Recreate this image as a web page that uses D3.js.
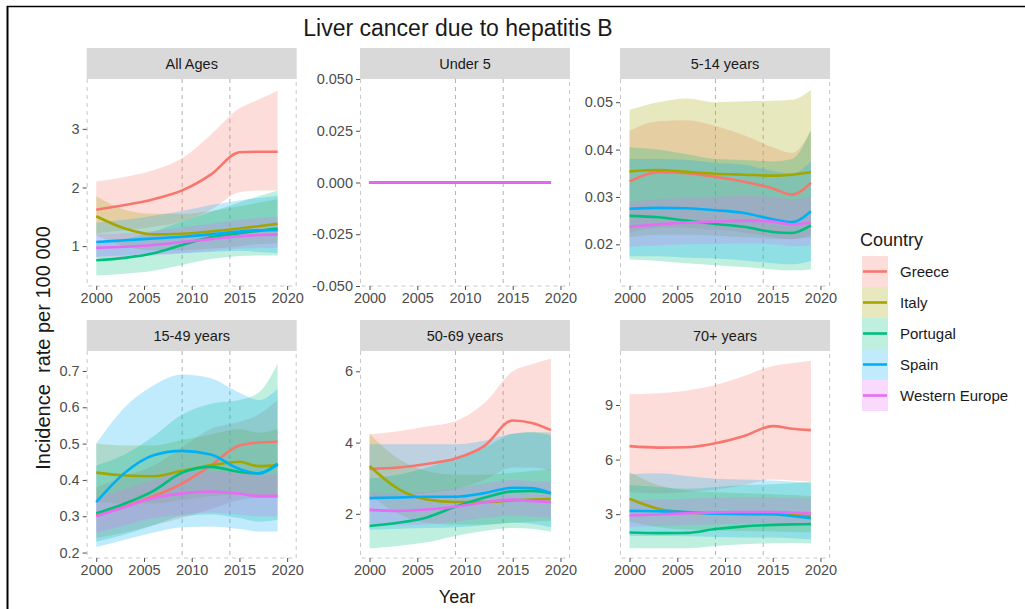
<!DOCTYPE html>
<html>
<head>
<meta charset="utf-8">
<script src="https://cdn.jsdelivr.net/npm/d3@7"></script>
<style>
  html, body { margin: 0; padding: 0; background: #fff; }
  svg { display: block; font-family: "Liberation Sans", Arial, Helvetica, sans-serif; }
</style>
</head>
<body>
<svg id="chart" width="1025" height="609"></svg>
<script>
// ---- data -------------------------------------------------------------
const years = [2000, 2003, 2006, 2009, 2012, 2015, 2017, 2019];
const countries = ["Greece", "Italy", "Portugal", "Spain", "Western Europe"];
const countryColors = ["#F8766D", "#A3A500", "#00BF7D", "#00B0F6", "#E76BF3"];
const panelTitles = ["All Ages", "Under 5", "5-14 years", "15-49 years", "50-69 years", "70+ years"];
const xTicks = [2000, 2005, 2010, 2015, 2020];
const markerYears = [2009, 2014];

// rate per 100 000, one row per country (Greece, Italy, Portugal, Spain, Western Europe)
const allAgesRate = [
  [1.62, 1.70, 1.80, 1.95, 2.22, 2.60, 2.61, 2.61],
  [1.51, 1.30, 1.20, 1.21, 1.25, 1.30, 1.34, 1.38],
  [0.76, 0.80, 0.88, 1.02, 1.15, 1.22, 1.26, 1.30],
  [1.07, 1.10, 1.13, 1.16, 1.20, 1.25, 1.27, 1.27],
  [0.97, 0.99, 1.02, 1.07, 1.12, 1.17, 1.19, 1.20]
];
const allAgesLow = [
  [1.22, 1.27, 1.33, 1.42, 1.62, 1.92, 1.95, 1.95],
  [1.18, 1.00, 0.93, 0.93, 0.96, 1.00, 1.03, 1.05],
  [0.50, 0.53, 0.58, 0.68, 0.78, 0.83, 0.84, 0.84],
  [0.82, 0.84, 0.86, 0.88, 0.90, 0.92, 0.90, 0.88],
  [0.80, 0.81, 0.84, 0.88, 0.92, 0.96, 0.97, 0.97]
];
const allAgesHigh = [
  [2.10, 2.18, 2.30, 2.50, 2.90, 3.35, 3.50, 3.65],
  [1.85, 1.62, 1.55, 1.55, 1.60, 1.68, 1.74, 1.80],
  [1.05, 1.12, 1.25, 1.42, 1.58, 1.75, 1.85, 1.95],
  [1.40, 1.45, 1.52, 1.60, 1.70, 1.78, 1.82, 1.86],
  [1.20, 1.22, 1.26, 1.32, 1.38, 1.45, 1.48, 1.50]
];

const under5Rate = [
  [0, 0, 0, 0, 0, 0, 0, 0],
  [0, 0, 0, 0, 0, 0, 0, 0],
  [0, 0, 0, 0, 0, 0, 0, 0],
  [0, 0, 0, 0, 0, 0, 0, 0],
  [0, 0, 0, 0, 0, 0, 0, 0]
];

const age5to14Rate = [
  [0.0333, 0.0352, 0.0350, 0.0342, 0.0332, 0.0318, 0.0305, 0.0330],
  [0.0354, 0.0357, 0.0353, 0.0349, 0.0347, 0.0345, 0.0347, 0.0352],
  [0.0260, 0.0257, 0.0250, 0.0243, 0.0237, 0.0226, 0.0224, 0.0240],
  [0.0275, 0.0277, 0.0276, 0.0272, 0.0266, 0.0253, 0.0247, 0.0270],
  [0.0237, 0.0242, 0.0246, 0.0248, 0.0250, 0.0248, 0.0242, 0.0246]
];
const age5to14Low = [
  [0.0225, 0.0235, 0.0235, 0.0230, 0.0225, 0.0215, 0.0210, 0.0220],
  [0.0215, 0.0220, 0.0220, 0.0218, 0.0215, 0.0212, 0.0212, 0.0215],
  [0.0168, 0.0165, 0.0160, 0.0156, 0.0152, 0.0147, 0.0145, 0.0147],
  [0.0175, 0.0175, 0.0172, 0.0170, 0.0166, 0.0160, 0.0158, 0.0165],
  [0.0195, 0.0198, 0.0200, 0.0201, 0.0202, 0.0200, 0.0196, 0.0198]
];
const age5to14High = [
  [0.0440, 0.0460, 0.0462, 0.0450, 0.0430, 0.0405, 0.0393, 0.0440],
  [0.0484, 0.0500, 0.0508, 0.0500, 0.0502, 0.0503, 0.0505, 0.0526],
  [0.0405, 0.0400, 0.0390, 0.0380, 0.0378, 0.0375, 0.0380, 0.0442],
  [0.0380, 0.0380, 0.0378, 0.0372, 0.0368, 0.0355, 0.0350, 0.0375],
  [0.0290, 0.0295, 0.0298, 0.0300, 0.0302, 0.0300, 0.0295, 0.0300]
];

const age15to49Rate = [
  [0.302, 0.327, 0.355, 0.390, 0.440, 0.495, 0.503, 0.505],
  [0.420, 0.412, 0.410, 0.425, 0.440, 0.450, 0.438, 0.440],
  [0.308, 0.335, 0.370, 0.420, 0.436, 0.422, 0.418, 0.445],
  [0.339, 0.420, 0.468, 0.480, 0.470, 0.430, 0.418, 0.442],
  [0.300, 0.325, 0.350, 0.363, 0.368, 0.362, 0.356, 0.356]
];
const age15to49Low = [
  [0.240, 0.255, 0.275, 0.295, 0.320, 0.345, 0.350, 0.350],
  [0.340, 0.335, 0.335, 0.345, 0.355, 0.360, 0.350, 0.350],
  [0.230, 0.250, 0.275, 0.300, 0.305, 0.295, 0.285, 0.290],
  [0.215, 0.235, 0.255, 0.270, 0.272, 0.265, 0.258, 0.258],
  [0.255, 0.275, 0.295, 0.305, 0.310, 0.305, 0.300, 0.300]
];
const age15to49High = [
  [0.380, 0.410, 0.440, 0.490, 0.540, 0.560, 0.580, 0.620],
  [0.500, 0.495, 0.495, 0.510, 0.525, 0.540, 0.530, 0.540],
  [0.440, 0.470, 0.520, 0.580, 0.610, 0.620, 0.640, 0.720],
  [0.500, 0.600, 0.660, 0.690, 0.680, 0.640, 0.620, 0.650],
  [0.350, 0.375, 0.400, 0.420, 0.425, 0.420, 0.415, 0.415]
];

const age50to69Rate = [
  [3.26, 3.30, 3.40, 3.55, 3.90, 4.62, 4.55, 4.35],
  [3.34, 2.70, 2.40, 2.33, 2.33, 2.38, 2.40, 2.42],
  [1.66, 1.75, 1.90, 2.20, 2.45, 2.63, 2.64, 2.58],
  [2.44, 2.46, 2.48, 2.48, 2.58, 2.73, 2.72, 2.58],
  [2.11, 2.08, 2.12, 2.20, 2.32, 2.40, 2.36, 2.33]
];
const age50to69Low = [
  [2.45, 2.50, 2.58, 2.70, 2.95, 3.30, 3.30, 3.20],
  [2.55, 2.00, 1.75, 1.70, 1.70, 1.75, 1.78, 1.80],
  [1.03, 1.10, 1.20, 1.38, 1.52, 1.60, 1.58, 1.50],
  [1.55, 1.58, 1.60, 1.62, 1.68, 1.75, 1.72, 1.62],
  [1.70, 1.68, 1.70, 1.78, 1.88, 1.95, 1.92, 1.90]
];
const age50to69High = [
  [4.23, 4.32, 4.45, 4.60, 5.10, 6.00, 6.20, 6.35],
  [4.25, 3.55, 3.20, 3.10, 3.10, 3.15, 3.20, 3.25],
  [3.00, 3.10, 3.30, 3.55, 3.85, 4.25, 4.30, 4.28],
  [3.95, 3.95, 3.95, 3.95, 4.05, 4.25, 4.28, 4.20],
  [2.60, 2.58, 2.62, 2.72, 2.85, 2.95, 2.92, 2.90]
];

const age70plusRate = [
  [6.74, 6.66, 6.68, 6.90, 7.30, 7.84, 7.70, 7.62],
  [3.85, 3.30, 3.10, 3.05, 3.02, 3.00, 2.95, 2.90],
  [1.99, 1.96, 1.97, 2.18, 2.33, 2.41, 2.44, 2.45],
  [3.18, 3.16, 3.12, 3.02, 3.00, 3.00, 2.90, 2.78],
  [2.93, 2.98, 3.05, 3.10, 3.12, 3.12, 3.08, 3.05]
];
const age70plusLow = [
  [4.20, 4.15, 4.20, 4.35, 4.60, 4.90, 4.85, 4.80],
  [2.60, 2.30, 2.15, 2.10, 2.08, 2.05, 2.02, 2.00],
  [1.12, 1.12, 1.12, 1.25, 1.35, 1.40, 1.42, 1.40],
  [1.80, 1.80, 1.78, 1.75, 1.72, 1.72, 1.68, 1.62],
  [2.30, 2.35, 2.40, 2.45, 2.48, 2.48, 2.45, 2.42]
];
const age70plusHigh = [
  [9.59, 9.65, 9.80, 10.10, 10.60, 11.15, 11.30, 11.43],
  [5.30, 4.60, 4.30, 4.20, 4.15, 4.10, 4.05, 4.00],
  [4.60, 4.50, 4.40, 4.50, 4.60, 4.65, 4.70, 4.80],
  [5.20, 5.25, 5.10, 4.95, 4.90, 4.85, 4.80, 4.70],
  [3.75, 3.80, 3.85, 3.90, 3.92, 3.92, 3.90, 3.88]
];

// y scale limits and breaks for each facet
const yLimits = [[0.32, 3.85], [-0.05, 0.05], [0.0112, 0.0549], [0.185, 0.755], [0.76, 6.57], [0.59, 11.97]];
const yTicks = [
  [1, 2, 3],
  [-0.05, -0.025, 0, 0.025, 0.05],
  [0.02, 0.03, 0.04, 0.05],
  [0.2, 0.3, 0.4, 0.5, 0.6, 0.7],
  [2, 4, 6],
  [3, 6, 9]
];
const yTickFormats = [",d", ".3f", ".2f", ".1f", ",d", ",d"];

const rates = [allAgesRate, under5Rate, age5to14Rate, age15to49Rate, age50to69Rate, age70plusRate];
const lows = [allAgesLow, under5Rate, age5to14Low, age15to49Low, age50to69Low, age70plusLow];
const highs = [allAgesHigh, under5Rate, age5to14High, age15to49High, age50to69High, age70plusHigh];

// ---- layout -----------------------------------------------------------
const svg = d3.select("#chart");
const font = "'Liberation Sans', Arial, Helvetica, sans-serif";
const colLeft = [86.7, 360, 620];
const rowTop = [48, 320];
const panelW = 210, stripH = 31, panelH = 207;
const ribbonAlpha = 0.25;
const lineWidth = 2.6;

// outer frame lines
svg.append("line").attr("x1", 7).attr("x2", 1025).attr("y1", 6.5).attr("y2", 6.5)
  .attr("stroke", "#000").attr("stroke-width", 1.5);
svg.append("line").attr("x1", 7.5).attr("x2", 7.5).attr("y1", 6).attr("y2", 609)
  .attr("stroke", "#000").attr("stroke-width", 2);

// title
svg.append("text").attr("x", 458).attr("y", 36).attr("text-anchor", "middle")
  .attr("font-size", 23).attr("fill", "#1a1a1a").text("Liver cancer due to hepatitis B");

// axis titles
svg.append("text").attr("x", 457).attr("y", 603).attr("text-anchor", "middle")
  .attr("font-size", 18).attr("fill", "#1a1a1a").text("Year");
svg.append("text").attr("transform", "translate(50,348) rotate(-90)").attr("text-anchor", "middle")
  .attr("font-size", 20).attr("fill", "#1a1a1a").style("white-space", "pre")
  .text("Incidence  rate per 100 000");

const defs = svg.append("defs");

panelTitles.forEach((title, p) => {
  const col = p % 3, row = Math.floor(p / 3);
  const x0 = colLeft[col];
  const sTop = rowTop[row];
  const pTop = sTop + stripH;

  const x = d3.scaleLinear().domain([1999, 2021]).range([x0, x0 + panelW]);
  const y = d3.scaleLinear().domain(yLimits[p]).range([pTop + panelH, pTop]);

  const g = svg.append("g");

  // strip
  g.append("rect").attr("x", x0).attr("y", sTop).attr("width", panelW).attr("height", stripH)
    .attr("fill", "#d9d9d9");
  g.append("text").attr("x", x0 + panelW / 2).attr("y", sTop + stripH / 2 + 5)
    .attr("text-anchor", "middle").attr("font-size", 14.5).attr("fill", "#1a1a1a").text(title);

  // clip for marks
  const clipId = "clip" + p;
  defs.append("clipPath").attr("id", clipId).append("rect")
    .attr("x", x0).attr("y", pTop).attr("width", panelW).attr("height", panelH);

  // reference years
  g.selectAll("line.ref").data(markerYears).join("line").attr("class", "ref")
    .attr("x1", d => x(d)).attr("x2", d => x(d)).attr("y1", pTop).attr("y2", pTop + panelH)
    .attr("stroke", "#b3b3b3").attr("stroke-width", 1).attr("stroke-dasharray", "4,4");

  // dashed panel border
  g.append("path")
    .attr("d", `M${x0 + 0.5},${pTop}V${pTop + panelH}H${x0 + panelW - 0.5}V${pTop}`)
    .attr("fill", "none").attr("stroke", "#c8c8c8").attr("stroke-width", 1)
    .attr("stroke-dasharray", "4,4");

  const marks = g.append("g").attr("clip-path", `url(#${clipId})`);

  const area = d3.area()
    .x((d, i) => x(years[i]))
    .y0(d => y(d[0]))
    .y1(d => y(d[1]))
    .curve(d3.curveMonotoneX);
  const line = d3.line()
    .x((d, i) => x(years[i]))
    .y(d => y(d))
    .curve(d3.curveMonotoneX);

  // confidence ribbons
  countries.forEach((c, k) => {
    const band = years.map((yr, i) => [lows[p][k][i], highs[p][k][i]]);
    marks.append("path").datum(band).attr("d", area)
      .attr("fill", countryColors[k]).attr("fill-opacity", ribbonAlpha).attr("stroke", "none");
  });
  // trend lines
  countries.forEach((c, k) => {
    marks.append("path").datum(rates[p][k]).attr("d", line)
      .attr("fill", "none").attr("stroke", countryColors[k]).attr("stroke-width", lineWidth)
      .attr("stroke-linejoin", "round");
  });

  // axes
  const fmt = d3.format(yTickFormats[p]);
  const yAxis = d3.axisLeft(y).tickValues(yTicks[p]).tickSize(4).tickPadding(3)
    .tickFormat(d => fmt(d).replace("\u2212", "-"));
  const ya = g.append("g").attr("transform", `translate(${x0},0)`).call(yAxis);
  const xAxis = d3.axisBottom(x).tickValues(xTicks).tickSize(4).tickPadding(3).tickFormat(d3.format("d"));
  const xa = g.append("g").attr("transform", `translate(0,${pTop + panelH})`).call(xAxis);

  [ya, xa].forEach(a => {
    a.select(".domain").remove();
    a.selectAll(".tick line").attr("stroke", "#4d4d4d").attr("stroke-width", 1);
    a.selectAll(".tick text").attr("fill", "#4d4d4d").attr("font-size", 14.5)
      .attr("font-family", font);
  });
});

// ---- legend -----------------------------------------------------------
const legend = svg.append("g");
legend.append("text").attr("x", 860).attr("y", 246).attr("font-size", 18).attr("fill", "#1a1a1a")
  .text("Country");
const keyX = 862, keyTop = 256, keyW = 26, keyH = 31;
countries.forEach((c, k) => {
  const ky = keyTop + k * keyH;
  legend.append("rect").attr("x", keyX).attr("y", ky).attr("width", keyW).attr("height", keyH)
    .attr("fill", countryColors[k]).attr("fill-opacity", ribbonAlpha);
  legend.append("line").attr("x1", keyX + 1).attr("x2", keyX + keyW - 1)
    .attr("y1", ky + keyH / 2).attr("y2", ky + keyH / 2)
    .attr("stroke", countryColors[k]).attr("stroke-width", lineWidth);
  legend.append("text").attr("x", 900).attr("y", ky + keyH / 2 + 5).attr("font-size", 15)
    .attr("fill", "#1a1a1a").text(c);
});
</script>
</body>
</html>
